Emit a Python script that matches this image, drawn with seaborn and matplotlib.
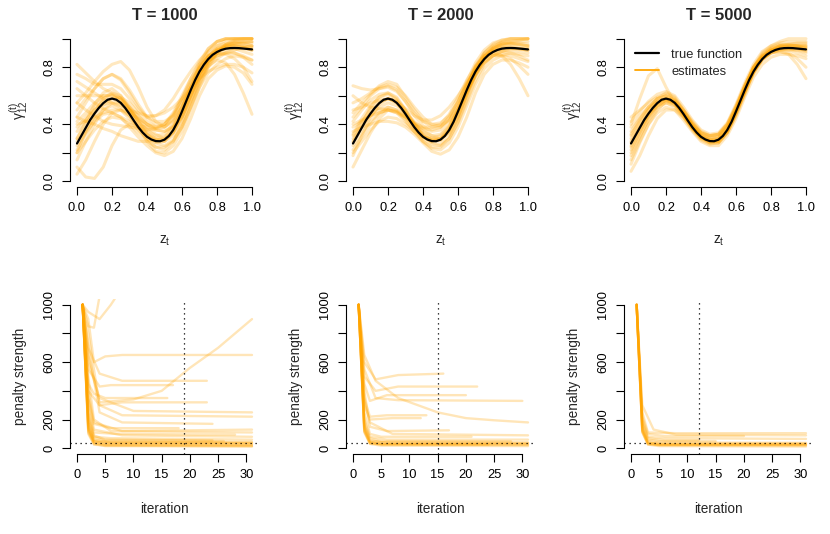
import numpy as np
import pandas as pd
import matplotlib
matplotlib.use("Agg")
import matplotlib.pyplot as plt
import seaborn as sns
from matplotlib.lines import Line2D

# ---------------- data ----------------
titles = ["T = 1000", "T = 2000", "T = 5000"]
cutoff_iter = [19, 15, 12]
penalty_ref = 40

z_true = [0.000, 0.025, 0.050, 0.075, 0.100, 0.125, 0.150, 0.175, 0.200, 0.225,
          0.250, 0.275, 0.300, 0.325, 0.350, 0.375, 0.400, 0.425, 0.450, 0.475,
          0.500, 0.525, 0.550, 0.575, 0.600, 0.625, 0.650, 0.675, 0.700, 0.725,
          0.750, 0.775, 0.800, 0.825, 0.850, 0.875, 0.900, 0.925, 0.950, 0.975, 1.000]
g_true = [0.265, 0.320, 0.375, 0.430, 0.475, 0.515, 0.548, 0.572, 0.580, 0.572,
          0.550, 0.515, 0.472, 0.425, 0.380, 0.342, 0.312, 0.293, 0.282, 0.281,
          0.292, 0.318, 0.360, 0.418, 0.490, 0.565, 0.640, 0.710, 0.770, 0.818,
          0.857, 0.887, 0.907, 0.921, 0.930, 0.934, 0.935, 0.934, 0.931, 0.928, 0.925]

z_est = [0.00, 0.05, 0.10, 0.15, 0.20, 0.25, 0.30, 0.35, 0.40, 0.45, 0.50,
         0.55, 0.60, 0.65, 0.70, 0.75, 0.80, 0.85, 0.90, 0.95, 1.00]

est_1000 = [
    [0.05, 0.15, 0.28, 0.40, 0.48, 0.50, 0.46, 0.38, 0.30, 0.24, 0.22, 0.28, 0.40, 0.56, 0.72, 0.84, 0.92, 0.96, 0.98, 0.98, 0.97],
    [0.82, 0.76, 0.70, 0.65, 0.62, 0.58, 0.52, 0.46, 0.40, 0.37, 0.38, 0.44, 0.55, 0.68, 0.80, 0.88, 0.92, 0.94, 0.95, 0.94, 0.93],
    [0.45, 0.55, 0.65, 0.72, 0.75, 0.72, 0.64, 0.54, 0.45, 0.40, 0.40, 0.46, 0.58, 0.72, 0.84, 0.93, 0.98, 1.00, 1.00, 1.00, 1.00],
    [0.20, 0.28, 0.36, 0.42, 0.45, 0.44, 0.40, 0.34, 0.28, 0.24, 0.24, 0.28, 0.38, 0.52, 0.66, 0.76, 0.82, 0.86, 0.88, 0.87, 0.85],
    [0.55, 0.62, 0.70, 0.77, 0.82, 0.84, 0.78, 0.66, 0.52, 0.42, 0.38, 0.42, 0.52, 0.66, 0.80, 0.91, 0.98, 1.00, 1.00, 1.00, 1.00],
    [0.35, 0.43, 0.50, 0.54, 0.55, 0.52, 0.46, 0.38, 0.33, 0.30, 0.31, 0.38, 0.50, 0.65, 0.78, 0.87, 0.92, 0.93, 0.93, 0.91, 0.89],
    [0.10, 0.03, 0.02, 0.10, 0.25, 0.36, 0.40, 0.38, 0.32, 0.28, 0.28, 0.34, 0.45, 0.60, 0.74, 0.85, 0.91, 0.95, 0.97, 0.98, 0.98],
    [0.55, 0.50, 0.46, 0.42, 0.40, 0.39, 0.38, 0.37, 0.36, 0.37, 0.40, 0.48, 0.60, 0.72, 0.82, 0.88, 0.90, 0.89, 0.86, 0.80, 0.70],
    [0.70, 0.66, 0.62, 0.58, 0.55, 0.53, 0.50, 0.48, 0.46, 0.46, 0.48, 0.52, 0.58, 0.65, 0.72, 0.77, 0.80, 0.82, 0.82, 0.80, 0.76],
    [0.30, 0.42, 0.54, 0.62, 0.65, 0.60, 0.50, 0.38, 0.28, 0.21, 0.20, 0.25, 0.35, 0.50, 0.66, 0.80, 0.90, 0.96, 0.99, 1.00, 1.00],
    [0.40, 0.42, 0.45, 0.48, 0.50, 0.50, 0.48, 0.44, 0.40, 0.36, 0.35, 0.38, 0.45, 0.57, 0.71, 0.83, 0.90, 0.94, 0.95, 0.94, 0.92],
    [0.15, 0.28, 0.40, 0.50, 0.55, 0.55, 0.50, 0.42, 0.35, 0.30, 0.28, 0.32, 0.42, 0.56, 0.70, 0.80, 0.86, 0.90, 0.92, 0.94, 0.95],
    [0.50, 0.58, 0.65, 0.72, 0.75, 0.71, 0.62, 0.52, 0.45, 0.42, 0.42, 0.46, 0.55, 0.66, 0.76, 0.84, 0.88, 0.90, 0.90, 0.88, 0.85],
    [0.25, 0.34, 0.42, 0.47, 0.48, 0.45, 0.38, 0.31, 0.25, 0.20, 0.18, 0.21, 0.30, 0.44, 0.60, 0.72, 0.78, 0.81, 0.80, 0.76, 0.68],
    [0.65, 0.60, 0.55, 0.51, 0.48, 0.45, 0.42, 0.39, 0.38, 0.36, 0.35, 0.39, 0.48, 0.60, 0.72, 0.81, 0.85, 0.83, 0.75, 0.62, 0.47],
    [0.38, 0.45, 0.52, 0.58, 0.60, 0.57, 0.50, 0.43, 0.38, 0.33, 0.30, 0.34, 0.45, 0.60, 0.75, 0.87, 0.95, 0.99, 1.00, 1.00, 1.00],
    [0.28, 0.36, 0.45, 0.53, 0.58, 0.59, 0.55, 0.48, 0.42, 0.38, 0.38, 0.43, 0.52, 0.66, 0.82, 0.93, 0.98, 1.00, 1.00, 1.00, 1.00],
    [0.45, 0.42, 0.40, 0.37, 0.35, 0.32, 0.30, 0.28, 0.28, 0.29, 0.30, 0.37, 0.50, 0.63, 0.75, 0.84, 0.88, 0.90, 0.90, 0.87, 0.82],
    [0.75, 0.72, 0.68, 0.68, 0.68, 0.65, 0.58, 0.50, 0.45, 0.46, 0.50, 0.58, 0.68, 0.77, 0.85, 0.91, 0.95, 0.97, 0.98, 0.97, 0.95],
    [0.20, 0.35, 0.48, 0.58, 0.62, 0.60, 0.52, 0.42, 0.33, 0.27, 0.25, 0.29, 0.38, 0.52, 0.68, 0.82, 0.90, 0.94, 0.96, 0.97, 0.98],
    [0.30, 0.40, 0.50, 0.56, 0.58, 0.55, 0.48, 0.40, 0.33, 0.29, 0.29, 0.35, 0.47, 0.62, 0.76, 0.86, 0.92, 0.95, 0.96, 0.95, 0.94],
    [0.42, 0.48, 0.55, 0.60, 0.61, 0.58, 0.51, 0.43, 0.36, 0.32, 0.33, 0.40, 0.52, 0.66, 0.79, 0.88, 0.93, 0.95, 0.95, 0.94, 0.92],
    [0.22, 0.33, 0.43, 0.50, 0.53, 0.50, 0.44, 0.36, 0.30, 0.27, 0.28, 0.35, 0.47, 0.62, 0.75, 0.84, 0.89, 0.92, 0.93, 0.93, 0.92],
    [0.60, 0.60, 0.60, 0.60, 0.60, 0.57, 0.52, 0.45, 0.40, 0.38, 0.40, 0.47, 0.58, 0.70, 0.80, 0.88, 0.93, 0.96, 0.97, 0.96, 0.95],
]

est_2000 = [
    [0.10, 0.22, 0.34, 0.44, 0.50, 0.49, 0.43, 0.35, 0.28, 0.24, 0.24, 0.30, 0.42, 0.58, 0.74, 0.86, 0.93, 0.97, 0.98, 0.98, 0.98],
    [0.67, 0.65, 0.64, 0.65, 0.66, 0.63, 0.56, 0.48, 0.42, 0.40, 0.41, 0.46, 0.56, 0.68, 0.80, 0.88, 0.92, 0.94, 0.94, 0.93, 0.92],
    [0.45, 0.52, 0.60, 0.65, 0.67, 0.64, 0.56, 0.46, 0.39, 0.35, 0.36, 0.42, 0.55, 0.70, 0.83, 0.92, 0.97, 0.99, 1.00, 1.00, 1.00],
    [0.25, 0.34, 0.42, 0.48, 0.50, 0.48, 0.42, 0.35, 0.28, 0.23, 0.22, 0.27, 0.38, 0.53, 0.68, 0.79, 0.85, 0.88, 0.90, 0.89, 0.88],
    [0.55, 0.58, 0.62, 0.66, 0.68, 0.66, 0.60, 0.52, 0.45, 0.40, 0.39, 0.43, 0.51, 0.62, 0.74, 0.83, 0.88, 0.91, 0.92, 0.91, 0.90],
    [0.32, 0.42, 0.50, 0.56, 0.58, 0.55, 0.47, 0.39, 0.32, 0.29, 0.29, 0.36, 0.48, 0.63, 0.77, 0.86, 0.91, 0.93, 0.94, 0.93, 0.93],
    [0.18, 0.32, 0.45, 0.54, 0.58, 0.56, 0.49, 0.40, 0.33, 0.29, 0.29, 0.35, 0.46, 0.61, 0.75, 0.86, 0.93, 0.96, 0.98, 0.99, 1.00],
    [0.40, 0.43, 0.46, 0.48, 0.50, 0.49, 0.45, 0.40, 0.37, 0.36, 0.38, 0.45, 0.56, 0.68, 0.78, 0.86, 0.90, 0.91, 0.90, 0.88, 0.85],
    [0.50, 0.52, 0.55, 0.57, 0.58, 0.56, 0.51, 0.46, 0.43, 0.43, 0.46, 0.52, 0.60, 0.69, 0.78, 0.84, 0.88, 0.88, 0.86, 0.81, 0.75],
    [0.28, 0.40, 0.52, 0.59, 0.62, 0.59, 0.50, 0.40, 0.32, 0.27, 0.26, 0.32, 0.44, 0.60, 0.75, 0.87, 0.94, 0.98, 1.00, 1.00, 1.00],
    [0.38, 0.42, 0.46, 0.50, 0.52, 0.50, 0.46, 0.40, 0.35, 0.32, 0.33, 0.39, 0.49, 0.63, 0.76, 0.86, 0.92, 0.95, 0.96, 0.96, 0.95],
    [0.22, 0.31, 0.40, 0.47, 0.52, 0.50, 0.45, 0.37, 0.30, 0.26, 0.25, 0.30, 0.41, 0.56, 0.71, 0.82, 0.88, 0.91, 0.93, 0.93, 0.92],
    [0.48, 0.55, 0.61, 0.67, 0.70, 0.68, 0.59, 0.50, 0.42, 0.38, 0.38, 0.43, 0.53, 0.67, 0.80, 0.89, 0.94, 0.96, 0.97, 0.97, 0.96],
    [0.35, 0.38, 0.40, 0.42, 0.42, 0.41, 0.38, 0.33, 0.27, 0.21, 0.19, 0.22, 0.31, 0.45, 0.62, 0.75, 0.82, 0.85, 0.85, 0.83, 0.80],
    [0.60, 0.55, 0.52, 0.51, 0.50, 0.48, 0.45, 0.41, 0.38, 0.38, 0.40, 0.47, 0.59, 0.71, 0.81, 0.88, 0.90, 0.88, 0.82, 0.72, 0.60],
    [0.30, 0.38, 0.46, 0.52, 0.55, 0.53, 0.48, 0.42, 0.37, 0.32, 0.30, 0.34, 0.45, 0.61, 0.78, 0.90, 0.96, 0.99, 1.00, 1.00, 1.00],
    [0.42, 0.50, 0.57, 0.61, 0.62, 0.58, 0.50, 0.41, 0.34, 0.30, 0.30, 0.36, 0.50, 0.66, 0.81, 0.90, 0.95, 0.97, 0.97, 0.96, 0.95],
    [0.20, 0.28, 0.36, 0.42, 0.45, 0.44, 0.40, 0.35, 0.31, 0.30, 0.32, 0.39, 0.50, 0.63, 0.75, 0.83, 0.88, 0.89, 0.88, 0.86, 0.84],
    [0.27, 0.38, 0.48, 0.55, 0.58, 0.55, 0.47, 0.38, 0.31, 0.28, 0.29, 0.36, 0.49, 0.64, 0.77, 0.86, 0.91, 0.93, 0.93, 0.93, 0.92],
    [0.33, 0.44, 0.53, 0.59, 0.61, 0.57, 0.48, 0.38, 0.31, 0.28, 0.30, 0.38, 0.51, 0.66, 0.79, 0.88, 0.93, 0.95, 0.96, 0.95, 0.94],
]

est_5000 = [
    [0.20, 0.32, 0.43, 0.51, 0.55, 0.53, 0.46, 0.37, 0.30, 0.27, 0.27, 0.34, 0.47, 0.62, 0.76, 0.85, 0.90, 0.92, 0.93, 0.93, 0.92],
    [0.35, 0.44, 0.52, 0.58, 0.60, 0.57, 0.49, 0.40, 0.33, 0.31, 0.32, 0.39, 0.52, 0.67, 0.80, 0.88, 0.93, 0.95, 0.95, 0.95, 0.94],
    [0.27, 0.38, 0.48, 0.55, 0.58, 0.55, 0.47, 0.38, 0.31, 0.28, 0.29, 0.36, 0.49, 0.64, 0.77, 0.86, 0.91, 0.93, 0.93, 0.93, 0.92],
    [0.15, 0.28, 0.40, 0.48, 0.52, 0.50, 0.43, 0.35, 0.28, 0.25, 0.25, 0.32, 0.44, 0.59, 0.73, 0.82, 0.87, 0.89, 0.89, 0.88, 0.86],
    [0.42, 0.49, 0.56, 0.61, 0.63, 0.60, 0.52, 0.43, 0.36, 0.33, 0.34, 0.41, 0.54, 0.69, 0.82, 0.91, 0.95, 0.97, 0.98, 0.98, 0.98],
    [0.30, 0.40, 0.50, 0.56, 0.59, 0.56, 0.48, 0.39, 0.32, 0.29, 0.30, 0.37, 0.50, 0.65, 0.78, 0.87, 0.92, 0.94, 0.95, 0.95, 0.95],
    [0.22, 0.34, 0.45, 0.53, 0.57, 0.55, 0.47, 0.38, 0.31, 0.28, 0.28, 0.35, 0.48, 0.63, 0.77, 0.87, 0.92, 0.95, 0.96, 0.97, 0.97],
    [0.38, 0.46, 0.52, 0.56, 0.58, 0.55, 0.48, 0.40, 0.34, 0.32, 0.33, 0.40, 0.53, 0.67, 0.80, 0.88, 0.92, 0.93, 0.92, 0.90, 0.88],
    [0.25, 0.36, 0.46, 0.54, 0.57, 0.54, 0.46, 0.37, 0.31, 0.27, 0.28, 0.35, 0.48, 0.63, 0.77, 0.85, 0.90, 0.91, 0.90, 0.86, 0.80],
    [0.32, 0.42, 0.50, 0.58, 0.62, 0.59, 0.50, 0.41, 0.34, 0.30, 0.31, 0.38, 0.50, 0.66, 0.80, 0.90, 0.95, 0.98, 1.00, 1.00, 1.00],
    [0.12, 0.27, 0.40, 0.50, 0.56, 0.54, 0.47, 0.38, 0.31, 0.29, 0.30, 0.37, 0.50, 0.64, 0.78, 0.86, 0.90, 0.91, 0.89, 0.82, 0.72],
    [0.40, 0.58, 0.74, 0.79, 0.66, 0.55, 0.47, 0.39, 0.32, 0.30, 0.31, 0.38, 0.50, 0.65, 0.79, 0.87, 0.92, 0.94, 0.94, 0.94, 0.93],
    [0.28, 0.38, 0.47, 0.53, 0.55, 0.52, 0.45, 0.36, 0.29, 0.26, 0.27, 0.34, 0.46, 0.61, 0.76, 0.86, 0.91, 0.94, 0.94, 0.94, 0.94],
    [0.33, 0.43, 0.52, 0.58, 0.60, 0.57, 0.50, 0.41, 0.34, 0.32, 0.33, 0.40, 0.52, 0.67, 0.80, 0.88, 0.93, 0.95, 0.95, 0.95, 0.95],
    [0.18, 0.31, 0.44, 0.53, 0.57, 0.55, 0.48, 0.39, 0.32, 0.29, 0.29, 0.36, 0.49, 0.63, 0.77, 0.86, 0.90, 0.92, 0.92, 0.92, 0.91],
    [0.07, 0.18, 0.32, 0.44, 0.50, 0.50, 0.45, 0.37, 0.30, 0.28, 0.28, 0.35, 0.48, 0.63, 0.77, 0.86, 0.91, 0.93, 0.93, 0.92, 0.90],
    [0.45, 0.50, 0.55, 0.59, 0.61, 0.58, 0.50, 0.42, 0.35, 0.32, 0.33, 0.40, 0.52, 0.67, 0.80, 0.89, 0.94, 0.96, 0.96, 0.95, 0.93],
    [0.24, 0.36, 0.47, 0.55, 0.58, 0.56, 0.48, 0.39, 0.31, 0.27, 0.27, 0.34, 0.47, 0.62, 0.76, 0.86, 0.92, 0.95, 0.96, 0.96, 0.96],
]

# penalty paths: (iterations, penalty values) vertices of each path
pen_1000 = [
    ([1, 2, 3, 5, 31], [1000, 120, 35, 22, 18]),
    ([1, 2, 3, 6, 31], [1000, 180, 60, 40, 35]),
    ([1, 2, 3, 5, 24], [1000, 250, 90, 60, 55]),
    ([1, 2, 3, 8, 31], [1000, 350, 130, 90, 80]),
    ([1, 2, 3, 6, 31], [1000, 500, 200, 120, 110]),
    ([1, 2, 4, 8, 24], [1000, 700, 250, 180, 170]),
    ([1, 2, 4, 8, 31], [1000, 800, 300, 230, 220]),
    ([1, 2, 4, 10, 31], [1000, 600, 350, 260, 250]),
    ([1, 2, 3, 5, 8, 31], [1000, 900, 600, 640, 650, 650]),
    ([1, 2, 4, 8, 23], [1000, 700, 520, 470, 470]),
    ([1, 2, 4, 6, 17], [1000, 550, 430, 440, 440]),
    ([1, 2, 3, 5, 10, 16], [1000, 450, 380, 350, 350, 350]),
    ([1, 2, 4, 10, 15, 20, 25, 31], [1000, 650, 320, 340, 400, 560, 700, 900]),
    ([1, 2, 3, 4], [1000, 850, 840, 1060]),
    ([1, 2, 4, 6, 7], [1000, 950, 900, 1000, 1060]),
    ([1, 2, 4, 8, 23], [1000, 400, 300, 320, 320]),
    ([1, 2, 3, 6, 31], [1000, 200, 80, 70, 60]),
    ([1, 2, 3, 5, 31], [1000, 110, 30, 15, 12]),
    ([1, 2, 3, 7, 28], [1000, 280, 110, 100, 95]),
    ([1, 2, 3, 6, 18], [1000, 350, 170, 140, 140]),
    ([1, 2, 3, 5, 31], [1000, 130, 45, 40, 40]),
    ([1, 2, 3, 8, 31], [1000, 400, 180, 120, 130]),
    ([1, 2, 3, 5, 31], [1000, 150, 40, 28, 25]),
    ([1, 2, 3, 5, 31], [1000, 140, 50, 32, 30]),
    ([1, 2, 3, 5, 31], [1000, 160, 55, 45, 45]),
    ([1, 2, 3, 5, 26], [1000, 220, 75, 55, 50]),
    ([1, 2, 3, 5, 31], [1000, 100, 25, 18, 15]),
]

pen_2000 = [
    ([1, 2, 3, 5, 31], [1000, 120, 35, 25, 22]),
    ([1, 2, 3, 6, 31], [1000, 180, 55, 40, 38]),
    ([1, 2, 3, 5, 21], [1000, 250, 100, 80, 80]),
    ([1, 2, 3, 6, 17], [1000, 400, 150, 120, 125]),
    ([1, 2, 4, 8, 16], [1000, 600, 480, 510, 520]),
    ([1, 2, 4, 8, 22], [1000, 500, 400, 430, 430]),
    ([1, 2, 3, 6, 20], [1000, 450, 330, 370, 370]),
    ([1, 2, 4, 8, 30], [1000, 550, 350, 335, 330]),
    ([1, 2, 4, 8, 15, 20, 25, 31], [1000, 650, 470, 350, 250, 210, 195, 180]),
    ([1, 2, 3, 6, 13], [1000, 350, 220, 230, 230]),
    ([1, 2, 3, 7, 12], [1000, 300, 200, 210, 210]),
    ([1, 2, 3, 6, 31], [1000, 200, 80, 60, 60]),
    ([1, 2, 3, 5, 31], [1000, 140, 45, 30, 30]),
    ([1, 2, 3, 7, 31], [1000, 330, 180, 100, 90]),
    ([1, 2, 3, 5, 28], [1000, 160, 70, 50, 48]),
    ([1, 2, 3, 5, 31], [1000, 110, 30, 18, 15]),
    ([1, 2, 3, 5, 31], [1000, 130, 40, 30, 28]),
    ([1, 2, 3, 5, 31], [1000, 150, 50, 42, 40]),
    ([1, 2, 3, 5, 24], [1000, 120, 35, 28, 26]),
]

pen_5000 = [
    ([1, 2, 3, 5, 31], [1000, 120, 30, 22, 20]),
    ([1, 2, 3, 5, 31], [1000, 150, 50, 40, 38]),
    ([1, 2, 3, 6, 31], [1000, 200, 80, 70, 65]),
    ([1, 2, 3, 8, 31], [1000, 250, 110, 105, 105]),
    ([1, 2, 3, 5, 15], [1000, 180, 60, 50, 50]),
    ([1, 2, 3, 5, 31], [1000, 110, 25, 15, 12]),
    ([1, 2, 3, 6, 20], [1000, 220, 100, 85, 85]),
    ([1, 2, 3, 5, 31], [1000, 130, 40, 30, 30]),
    ([1, 2, 3, 6, 12], [1000, 170, 70, 55, 55]),
    ([1, 2, 3, 5, 31], [1000, 140, 35, 25, 25]),
    ([1, 2, 4, 8, 31], [1000, 300, 130, 95, 90]),
    ([1, 2, 3, 5, 31], [1000, 125, 38, 32, 32]),
    ([1, 2, 3, 5, 31], [1000, 115, 28, 22, 22]),
]

est_sets = [est_1000, est_2000, est_5000]
pen_sets = [pen_1000, pen_2000, pen_5000]

# ---------------- style ----------------
sns.set_style("ticks")
plt.rcParams['font.family'] = ['Liberation Sans', 'DejaVu Sans']
plt.rcParams['mathtext.fontset'] = 'custom'
plt.rcParams['mathtext.rm'] = 'Liberation Sans'
plt.rcParams['mathtext.it'] = 'Liberation Sans:italic'

ORANGE = "#FFA500"
FS = 9.3

fig = plt.figure(figsize=(8.30, 5.34), dpi=100)
W, H = 830.0, 534.0
lefts = [70, 346, 624]
aw = 189
top_row = (33, 187)
bot_row = (299, 454)


def style_axes(ax, xb, yb):
    sns.despine(ax=ax)
    ax.spines['left'].set_bounds(*yb)
    ax.spines['bottom'].set_bounds(*xb)
    for s in ('left', 'bottom'):
        ax.spines[s].set_linewidth(0.8)
        ax.spines[s].set_color('black')
    ax.tick_params(direction='out', length=5.5, width=0.8, labelsize=FS,
                   colors='black', pad=5, bottom=True, left=True)
    ax.tick_params(axis='y', labelrotation=90)
    for lab in ax.get_yticklabels():
        lab.set_va('center')
    ax.grid(False)
    ax.set_facecolor('white')


for k in range(3):
    # ---- top row: estimated functions ----
    ax = fig.add_axes([lefts[k] / W, 1 - top_row[1] / H, aw / W,
                       (top_row[1] - top_row[0]) / H])
    rows = []
    for ci, curve in enumerate(est_sets[k]):
        for zz, vv in zip(z_est, curve):
            rows.append({"z": zz, "g": vv, "curve": ci})
    df = pd.DataFrame(rows)
    sns.lineplot(data=df, x="z", y="g", units="curve", estimator=None,
                 color=ORANGE, alpha=0.25, lw=2.2, ax=ax, legend=False)
    sns.lineplot(x=z_true, y=g_true, color="black", lw=1.6, ax=ax,
                 estimator=None, legend=False)
    ax.set_xlim(-0.04, 1.04)
    ax.set_ylim(-0.04, 1.04)
    ax.set_xticks([0, 0.2, 0.4, 0.6, 0.8, 1.0])
    ax.set_xticklabels(["0.0", "0.2", "0.4", "0.6", "0.8", "1.0"])
    ax.set_yticks([0, 0.2, 0.4, 0.6, 0.8, 1.0])
    ax.set_yticklabels(["0.0", "", "0.4", "", "0.8", ""])
    style_axes(ax, (0, 1), (0, 1))
    ax.set_title(titles[k], fontsize=12, fontweight='bold', pad=9)
    ax.set_xlabel(r"$\mathrm{z}_\mathrm{t}$", fontsize=FS + 0.5)
    ax.xaxis.label.set_va('center')
    ax.xaxis.set_label_coords(0.5, -0.35)
    ax.set_ylabel(r"$\mathrm{\gamma}_{\mathrm{12}}^{\mathrm{(t)}}$", fontsize=FS + 0.8)
    ax.yaxis.label.set_va('center')
    ax.yaxis.set_label_coords(-0.27, 0.5)
    if k == 2:
        handles = [Line2D([], [], color='black', lw=1.6),
                   Line2D([], [], color=ORANGE, lw=1.3)]
        ax.legend(handles, ["true function", "estimates"], loc='upper left',
                  bbox_to_anchor=(0.03, 0.93), frameon=False, fontsize=FS,
                  handlelength=1.9, handletextpad=0.9, labelspacing=0.35,
                  borderaxespad=0)

    # ---- bottom row: penalty strength paths ----
    ax = fig.add_axes([lefts[k] / W, 1 - bot_row[1] / H, aw / W,
                       (bot_row[1] - bot_row[0]) / H])
    rows = []
    for li, (its, vals) in enumerate(pen_sets[k]):
        for it, vv in zip(its, vals):
            rows.append({"iteration": it, "penalty": vv, "path": li})
    dfp = pd.DataFrame(rows)
    sns.lineplot(data=dfp, x="iteration", y="penalty", units="path",
                 estimator=None, color=ORANGE, alpha=0.28, lw=1.7, ax=ax,
                 legend=False)
    ax.axvline(cutoff_iter[k], color='black', lw=0.9, ls=(0, (1, 3)))
    ax.axhline(penalty_ref, color='black', lw=0.9, ls=(0, (1, 3)))
    ax.set_xlim(-1.24, 32.24)
    ax.set_ylim(-40, 1040)
    ax.set_xticks([0, 5, 10, 15, 20, 25, 30])
    ax.set_yticks([0, 200, 400, 600, 800, 1000])
    ax.set_yticklabels(["0", "200", "", "600", "", "1000"])
    style_axes(ax, (0, 30), (0, 1000))
    ax.set_xlabel("iteration", fontsize=FS + 0.5)
    ax.xaxis.label.set_va('center')
    ax.xaxis.set_label_coords(0.5, -0.355)
    ax.set_ylabel("penalty strength", fontsize=FS + 0.5)
    ax.yaxis.label.set_va('center')
    ax.yaxis.set_label_coords(-0.265, 0.5)

fig.savefig("out.png", dpi=100, facecolor='white')
